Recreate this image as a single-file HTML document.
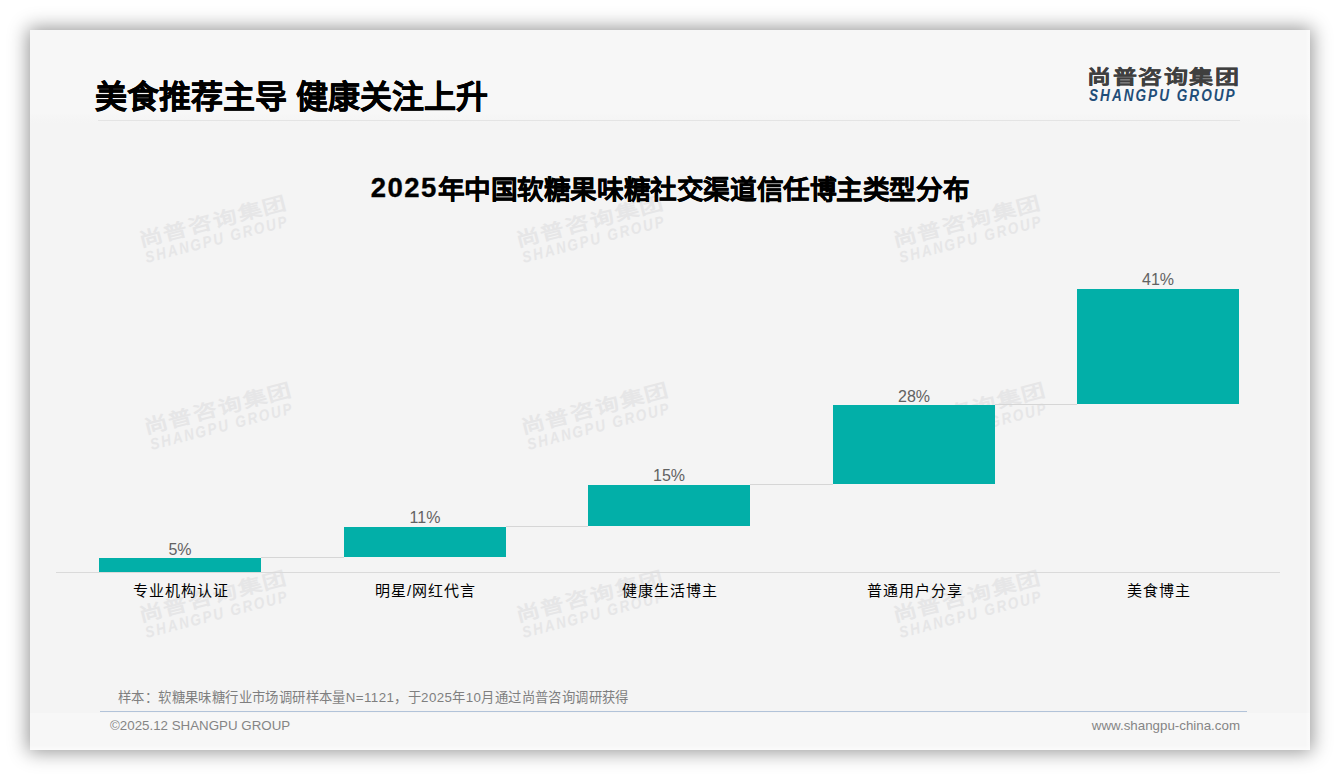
<!DOCTYPE html>
<html lang="zh-CN">
<head>
<meta charset="utf-8">
<title>美食推荐主导 健康关注上升</title>
<style>
  html, body { margin: 0; padding: 0; }
  body {
    width: 1340px; height: 780px; overflow: hidden; position: relative;
    background: #ffffff;
    font-family: "Liberation Sans", sans-serif;
  }
  .card {
    position: absolute; left: 30px; top: 30px; width: 1280px; height: 720px;
    background: #f4f4f4;
    box-shadow: 0 0 18px 2px rgba(0,0,0,0.42);
    overflow: hidden;
  }
  /* coordinates inside .card are page coords minus 30 */
  .head-band { position: absolute; left: 0; top: 0; width: 1280px; height: 93px; background: linear-gradient(to bottom, #f7f7f7 0, #f7f7f7 83px, #f4f4f4 93px); }
  .foot-band { position: absolute; left: 0; top: 683px; width: 1280px; height: 37px; background: #f7f7f7; }
  .edge-b { position: absolute; left: 0; top: 715px; width: 1280px; height: 5px; background: linear-gradient(to bottom, rgba(255,255,255,0), rgba(255,255,255,0.55)); }
  .edge-r { position: absolute; left: 1275px; top: 0; width: 5px; height: 720px; background: linear-gradient(to right, rgba(255,255,255,0), rgba(255,255,255,0.45)); }
  .head-line { position: absolute; left: 68px; top: 90px; width: 1142px; height: 1px; background: #e4e4e4; }
  .title {
    position: absolute; left: 65px; top: 45px; height: 44px; line-height: 44px;
    font-size: 32px; font-weight: bold; color: #000; white-space: nowrap;
    -webkit-text-stroke: 0.4px #000;
  }
  .logo { position: absolute; left: 1057px; top: 32px; width: 160px; height: 44px; }
  .lg .cn { display: block; font-size: 24px; font-weight: bold; letter-spacing: 1.6px; line-height: 26px; white-space: nowrap;
            transform-origin: left bottom; transform: scaleY(0.79); }
  .lg .en { display: block; font-size: 16px; font-weight: bold; font-style: italic; letter-spacing: 2.35px; line-height: 16px; white-space: nowrap;
            transform-origin: left top; transform: scaleX(0.85); margin-top: 0px; margin-left: 2px; }
  .logo .cn { color: #3f3f3f; -webkit-text-stroke: 0.3px #3f3f3f; }
  .logo .en { color: #1f4e79; }
  .chart-title {
    position: absolute; left: 0; top: 138px; width: 1280px; text-align: center;
    font-size: 26.5px; font-weight: bold; color: #000; line-height: 40px; white-space: nowrap;
    -webkit-text-stroke: 0.35px #000;
  }
  .chart-title .num { font-size: 27.5px; letter-spacing: 1.4px; }
  .chart-title .cjk { position: relative; top: 2.3px; font-size: 26.67px; letter-spacing: -0.42px; }
  .wm {
    position: absolute; width: 160px; height: 44px; margin-left: -80px; margin-top: -22px;
    transform: rotate(-14.6deg); color: #e6e6e7; white-space: nowrap;
  }
  .axis { position: absolute; left: 26px; top: 542px; width: 1224px; height: 1px; background: #dadada; }
  .bar { position: absolute; background: #02afa8; width: 162px; }
  .conn { position: absolute; height: 1px; background: #d6d6d6; }
  .dl { position: absolute; width: 162px; text-align: center; font-size: 16px; color: #626262; line-height: 18px; }
  .cat { position: absolute; width: 200px; text-align: center; font-size: 15px; letter-spacing: 1px; text-indent: 1px; font-weight: 300; color: #000; line-height: 20px; white-space: nowrap; }
  .src { position: absolute; left: 88px; top: 659px; font-size: 13.33px; letter-spacing: 0.4px; font-weight: 300; color: #7f7f7f; line-height: 18px; white-space: nowrap; }
  .foot-line { position: absolute; left: 70px; top: 681px; width: 1147px; height: 1px; background: #b2c3d9; }
  .copy { position: absolute; left: 80px; top: 687px; font-size: 13.33px; color: #858585; line-height: 18px; white-space: nowrap; }
  .url { position: absolute; right: 70px; top: 687px; font-size: 13.33px; color: #858585; line-height: 18px; white-space: nowrap; }
</style>
</head>
<body>
<div class="card">
  <div class="head-band"></div>
  <div class="foot-band"></div>
  <div class="edge-b"></div>
  <div class="edge-r"></div>

  <!-- watermarks -->
  <div class="wm lg" style="left:188px; top:196.5px;"><div class="cn">尚普咨询集团</div><div class="en">SHANGPU GROUP</div></div>
  <div class="wm lg" style="left:565px; top:196.5px;"><div class="cn">尚普咨询集团</div><div class="en">SHANGPU GROUP</div></div>
  <div class="wm lg" style="left:942px; top:196.5px;"><div class="cn">尚普咨询集团</div><div class="en">SHANGPU GROUP</div></div>
  <div class="wm lg" style="left:193px; top:383.5px;"><div class="cn">尚普咨询集团</div><div class="en">SHANGPU GROUP</div></div>
  <div class="wm lg" style="left:570px; top:383.5px;"><div class="cn">尚普咨询集团</div><div class="en">SHANGPU GROUP</div></div>
  <div class="wm lg" style="left:947px; top:383.5px;"><div class="cn">尚普咨询集团</div><div class="en">SHANGPU GROUP</div></div>
  <div class="wm lg" style="left:188px; top:571.5px;"><div class="cn">尚普咨询集团</div><div class="en">SHANGPU GROUP</div></div>
  <div class="wm lg" style="left:565px; top:571.5px;"><div class="cn">尚普咨询集团</div><div class="en">SHANGPU GROUP</div></div>
  <div class="wm lg" style="left:942px; top:571.5px;"><div class="cn">尚普咨询集团</div><div class="en">SHANGPU GROUP</div></div>

  <div class="head-line"></div>
  <div class="title">美食推荐主导 健康关注上升</div>
  <div class="logo lg"><div class="cn">尚普咨询集团</div><div class="en">SHANGPU GROUP</div></div>

  <div class="chart-title"><span class="num">2025</span><span class="cjk">年中国软糖果味糖社交渠道信任博主类型分布</span></div>

  <!-- chart -->
  <div class="axis"></div>
  <div class="conn" style="left:231px; top:527px; width:83px;"></div>
  <div class="conn" style="left:476px; top:496px; width:82px;"></div>
  <div class="conn" style="left:720px; top:454px; width:83px;"></div>
  <div class="conn" style="left:965px; top:374px; width:82px;"></div>

  <div class="bar" style="left:69px;   top:528px; height:14px;"></div>
  <div class="bar" style="left:314px;  top:497px; height:30px;"></div>
  <div class="bar" style="left:558px;  top:455px; height:41px;"></div>
  <div class="bar" style="left:803px;  top:375px; height:79px;"></div>
  <div class="bar" style="left:1047px; top:259px; height:115px;"></div>

  <div class="dl" style="left:69px; top:511px;">5%</div>
  <div class="dl" style="left:314px; top:479px;">11%</div>
  <div class="dl" style="left:558px; top:437px;">15%</div>
  <div class="dl" style="left:803px; top:358px;">28%</div>
  <div class="dl" style="left:1047px; top:241px;">41%</div>

  <div class="cat" style="left:50px;   top:550.5px;">专业机构认证</div>
  <div class="cat" style="left:295px;  top:550.5px;">明星/网红代言</div>
  <div class="cat" style="left:539px;  top:550.5px;">健康生活博主</div>
  <div class="cat" style="left:784px;  top:550.5px;">普通用户分享</div>
  <div class="cat" style="left:1028px; top:550.5px;">美食博主</div>

  <div class="src">样本：软糖果味糖行业市场调研样本量N=1121，于2025年10月通过尚普咨询调研获得</div>
  <div class="foot-line"></div>
  <div class="copy">©2025.12 SHANGPU GROUP</div>
  <div class="url">www.shangpu-china.com</div>
</div>
</body>
</html>
